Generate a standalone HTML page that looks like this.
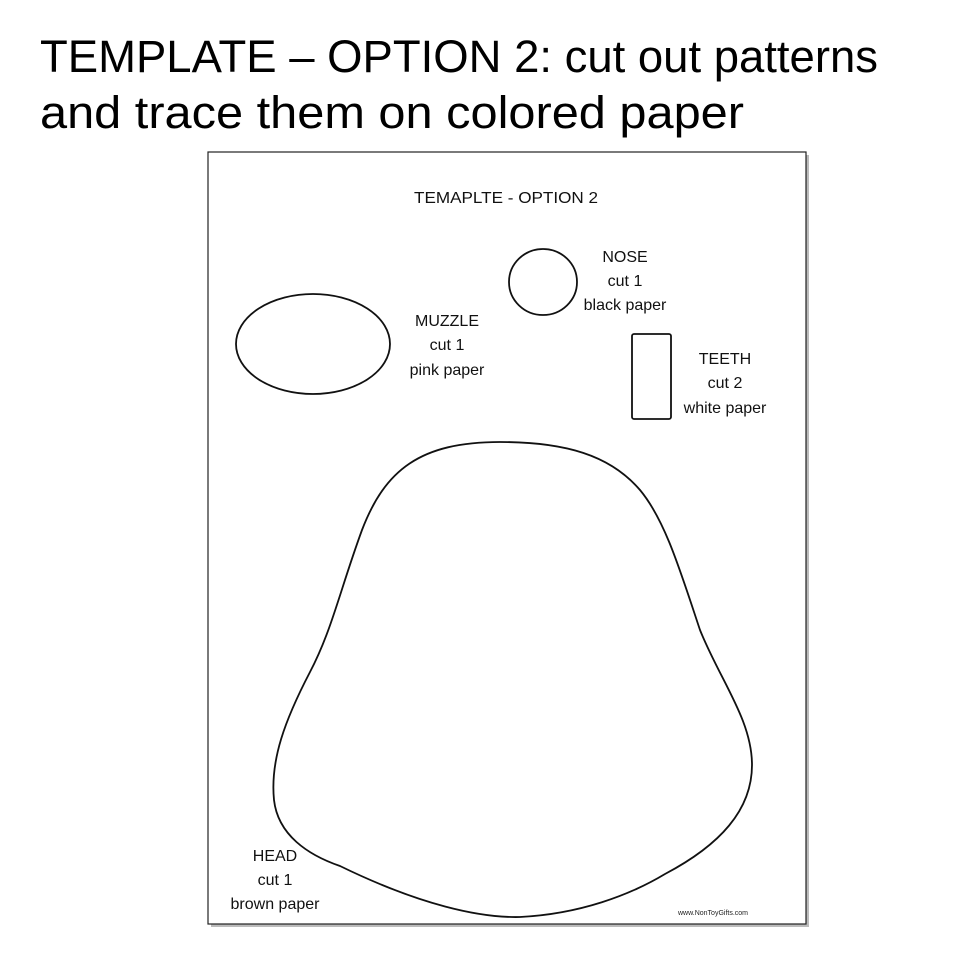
<!DOCTYPE html>
<html><head><meta charset="utf-8"><style>
body{margin:0;background:#fff}
svg{display:block}
</style></head><body>
<svg width="960" height="960" viewBox="0 0 960 960" xmlns="http://www.w3.org/2000/svg" font-family="Liberation Sans, sans-serif">
<text x="40" y="72" font-size="45" textLength="838" lengthAdjust="spacingAndGlyphs" fill="#000">TEMPLATE – OPTION 2: cut out patterns</text>
<text x="40" y="128" font-size="45" textLength="704" lengthAdjust="spacingAndGlyphs" fill="#000">and trace them on colored paper</text>
<rect x="211" y="155" width="598" height="772" fill="#bbb"/>
<rect x="208" y="152" width="598" height="772" fill="#fff" stroke="#222" stroke-width="1.2"/>
<g font-size="16" text-anchor="middle" fill="#111">
<text x="506" y="203" textLength="184" lengthAdjust="spacingAndGlyphs">TEMAPLTE - OPTION 2</text>
<text x="625" y="262">NOSE</text><text x="625" y="286">cut 1</text><text x="625" y="310">black paper</text>
<text x="447" y="326">MUZZLE</text><text x="447" y="350">cut 1</text><text x="447" y="375">pink paper</text>
<text x="725" y="364">TEETH</text><text x="725" y="388">cut 2</text><text x="725" y="413">white paper</text>
<text x="275" y="861">HEAD</text><text x="275" y="885">cut 1</text><text x="275" y="909">brown paper</text>
</g>
<text x="713" y="915" font-size="7" text-anchor="middle" fill="#222">www.NonToyGifts.com</text>
<g fill="none" stroke="#111" stroke-width="1.8">
<ellipse cx="313" cy="344" rx="77" ry="50"/>
<ellipse cx="543" cy="282" rx="34" ry="33"/>
<rect x="632" y="334" width="39" height="85" rx="2"/>
<path d="M500,442 C 420,442 385,470 362,530 C 340,590 332,630 310,672 C 285,720 270,760 274,800 C 278,835 308,855 340,866 C 420,905 480,918 520,917 C 580,914 630,895 665,874 C 720,845 752,810 752,765 C 752,720 720,680 700,630 C 680,570 665,520 640,490 C 610,455 565,442 500,442 Z"/>
</g>
</svg>
</body></html>
